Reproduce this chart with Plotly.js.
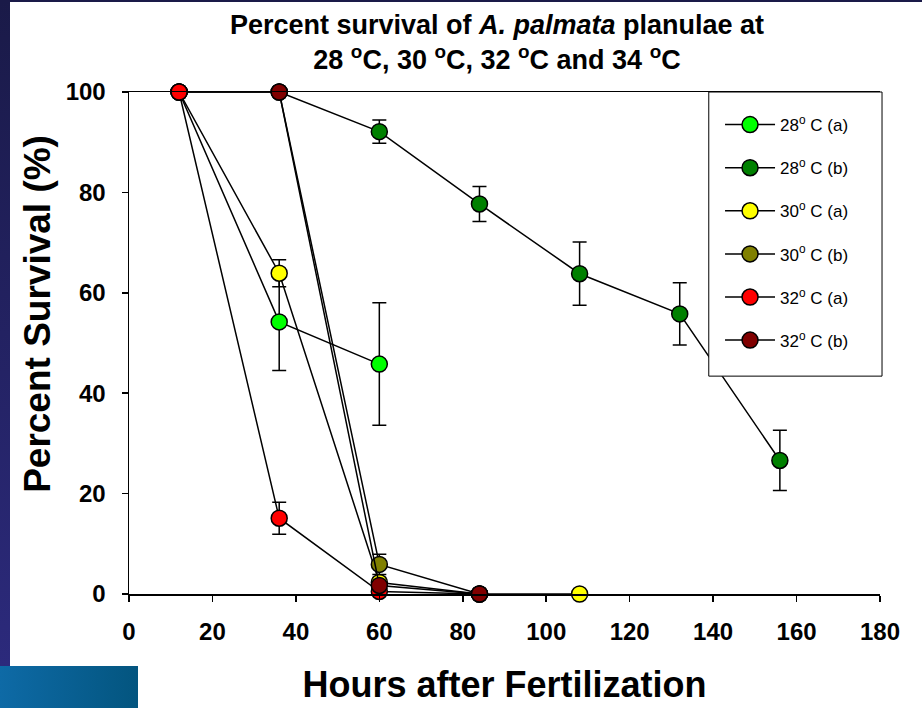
<!DOCTYPE html>
<html>
<head>
<meta charset="utf-8">
<script src="https://cdn.plot.ly/plotly-3.0.1.min.js"></script>
<style>
  html, body { margin: 0; padding: 0; background: #ffffff; }
  #chart { width: 922px; height: 708px; position: absolute; left: 0; top: 0; }
  .deco { position: absolute; z-index: 5; pointer-events: none; }
</style>
</head>
<body>
<div id="chart"></div>
<div class="deco" style="left:0;top:0;width:10px;height:666px;background:linear-gradient(#1a1a48,#2c2a7c);"></div>
<div class="deco" style="left:0;top:0;width:922px;height:2px;background:#1a1a48;"></div>
<div class="deco" style="left:0;top:666px;width:138px;height:42px;background:linear-gradient(90deg,#0e6aa6,#03557f);"></div>
<script>
// ---- data ----
const hours28a = [12, 36, 60];
const surv28a  = [100, 54.2, 45.8];
const err28a   = [0, 9.7, 12.2];

const hours28b = [12, 36, 60, 84, 108, 132, 156];
const surv28b  = [100, 100, 92.1, 77.7, 63.8, 55.8, 26.6];
const err28b   = [0, 0, 2.3, 3.5, 6.3, 6.2, 6.0];

const hours30a = [12, 36, 60, 84, 108];
const surv30a  = [100, 63.9, 2.3, 0, 0];
const err30a   = [0, 2.7, 1.0, 0, 0];

const hours30b = [12, 36, 60, 84];
const surv30b  = [100, 100, 5.9, 0];
const err30b   = [0, 0, 2.0, 0];

const hours32a = [12, 36, 60, 84];
const surv32a  = [100, 15.1, 0.5, 0];
const err32a   = [0, 3.2, 0, 0];

const hours32b = [36, 60, 84];
const surv32b  = [100, 1.7, 0];
const err32b   = [0, 0.5, 0];

const seriesNames = ['28<sup>o</sup> C (a)', '28<sup>o</sup> C (b)', '30<sup>o</sup> C (a)',
                     '30<sup>o</sup> C (b)', '32<sup>o</sup> C (a)', '32<sup>o</sup> C (b)'];
const seriesColors = ['#00ff00', '#008000', '#ffff00', '#808000', '#ff0000', '#800000'];
const xTickVals = [0, 20, 40, 60, 80, 100, 120, 140, 160, 180];
const yTickVals = [0, 20, 40, 60, 80, 100];
const xTitle = '<b>Hours after Fertilization</b>';
const yTitle = '<b>Percent Survival (%)</b>';

const xs = [hours28a, hours28b, hours30a, hours30b, hours32a, hours32b];
const ys = [surv28a, surv28b, surv30a, surv30b, surv32a, surv32b];
const es = [err28a, err28b, err30a, err30b, err32a, err32b];

const traces = xs.map((x, i) => ({
  type: 'scatter',
  mode: 'lines+markers',
  x: x,
  y: ys[i],
  name: seriesNames[i],
  legendgroup: 'g' + i,
  cliponaxis: false,
  line: { color: '#000000', width: 1.5 },
  marker: { color: seriesColors[i], size: 16, line: { color: '#000000', width: 1.5 } },
  error_y: { type: 'data', array: es[i], visible: true, color: '#000000', thickness: 1.5, width: 7 }
}));

const FONT = 'Liberation Sans, Arial, sans-serif';

const layout = {
  width: 922,
  height: 708,
  paper_bgcolor: '#ffffff',
  plot_bgcolor: '#ffffff',
  margin: { l: 129, r: 42, t: 92, b: 114 },
  font: { family: FONT, color: '#000000' },
  title: {
    text: '<b>Percent survival of <i>A. palmata</i> planulae at<br>28 <sup>o</sup>C, 30 <sup>o</sup>C, 32 <sup>o</sup>C and 34 <sup>o</sup>C</b>',
    font: { size: 27, family: FONT, color: '#000000' },
    x: 0.49, xref: 'paper', xanchor: 'center',
    y: 0.952, yref: 'container', yanchor: 'top'
  },
  xaxis: {
    range: [0, 180],
    tickvals: xTickVals,
    ticks: 'outside', ticklen: 6, tickwidth: 1.5, tickcolor: '#000000',
    showline: true, linecolor: '#000000', linewidth: 1.5, mirror: true,
    showgrid: false, zeroline: false,
    ticklabelstandoff: 10,
    tickfont: { size: 24, family: FONT, weight: 'bold', color: '#000000' },
    title: { text: xTitle, font: { size: 36, color: '#000000' }, standoff: 27 }
  },
  yaxis: {
    range: [0, 100],
    tickvals: yTickVals,
    ticks: 'outside', ticklen: 6, tickwidth: 1.5, tickcolor: '#000000',
    showline: true, linecolor: '#000000', linewidth: 1.5, mirror: false,
    showgrid: false, zeroline: false,
    ticklabelstandoff: 11,
    tickfont: { size: 24, family: FONT, weight: 'bold', color: '#000000' }
  },
  annotations: [{
    text: yTitle, textangle: -90, showarrow: false,
    xref: 'paper', yref: 'paper', x: -0.1212, y: 0.558,
    xanchor: 'center', yanchor: 'middle',
    font: { size: 37, family: FONT, color: '#000000' }
  }],
  shapes: [{
    type: 'rect', layer: 'above',
    xref: 'paper', yref: 'paper',
    x0: 0.772, x1: 1.0027, y0: 0.434, y1: 1,
    fillcolor: '#ffffff',
    line: { color: '#000000', width: 1 }
  }],
  showlegend: true,
  legend: {
    x: 0.787, xanchor: 'left', y: 0.97, yanchor: 'top',
    bgcolor: 'rgba(0,0,0,0)', borderwidth: 0,
    font: { size: 17, family: FONT, color: '#000000' },
    tracegroupgap: 18,
    itemwidth: 50,
    traceorder: 'grouped'
  }
};

Plotly.newPlot('chart', traces, layout, { displayModeBar: false, staticPlot: true });
</script>
</body>
</html>
